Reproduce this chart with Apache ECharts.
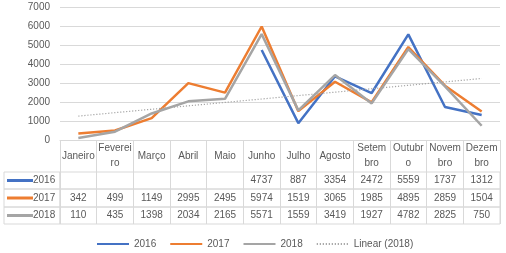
<!DOCTYPE html>
<html><head><meta charset="utf-8">
<script src="https://cdn.jsdelivr.net/npm/echarts@6/dist/echarts.min.js"></script>
<style>html,body{margin:0;padding:0;background:#fff}#c{width:506px;height:253px}</style>
</head><body><div id="c"></div>
<script>
const categories = ['Janeiro','Feverei\nro','Março','Abril','Maio','Junho','Julho','Agosto','Setem\nbro','Outubr\no','Novem\nbro','Dezem\nbro'];
const seriesNames = ['2016','2017','2018'];
const values2016 = [null,null,null,null,null,4737,887,3354,2472,5559,1737,1312];
const values2017 = [342,499,1149,2995,2495,5974,1519,3065,1985,4895,2859,1504];
const values2018 = [110,435,1398,2034,2165,5571,1559,3419,1927,4782,2825,750];
const trendName = 'Linear (2018)';
const yMin = 0, yMax = 7000, yStep = 1000;

const rows = [values2016, values2017, values2018];
const colors = ['#4472C4','#ED7D31','#A5A5A5'];
const FONT = 'Liberation Sans';
const TXT = '#595959';
const GRID = '#D9D9D9';

// linear regression trendline of 2018
function linearTrend(arr){
  const n = arr.length; let sx=0, sy=0, sxy=0, sxx=0;
  arr.forEach((y,i)=>{const x=i+1; sx+=x; sy+=y; sxy+=x*y; sxx+=x*x;});
  const b = (n*sxy - sx*sy)/(n*sxx - sx*sx);
  const a = (sy - b*sx)/n;
  return arr.map((_,i)=>+(a + b*(i+1)).toFixed(1));
}
const trend = linearTrend(values2018);

const rowTops = [172, 189, 207];
const rowHeights = [17, 18, 17];

const grid = [{left:60, width:440, top:7, height:133}];
const xAxis = [{
  type:'category', gridIndex:0, data:categories, boundaryGap:true,
  axisLine:{lineStyle:{color:GRID}},
  axisTick:{show:true, interval:0, length:32, lineStyle:{color:GRID}},
  axisLabel:{interval:0, margin:16, verticalAlign:'middle', lineHeight:15, fontSize:10, color:TXT, fontFamily:FONT}
}];
const yAxis = [{
  type:'value', gridIndex:0, min:yMin, max:yMax, interval:yStep,
  axisLine:{show:false}, axisTick:{show:false},
  splitLine:{lineStyle:{color:GRID}},
  axisLabel:{margin:10, fontSize:10, color:TXT, fontFamily:FONT, formatter:(v)=>String(v)}
}];

const rich = {};
seriesNames.forEach((n,i)=>{ rich['sw'+i] = {width:26, height:3, backgroundColor:colors[i]}; rich['t'+i]={fontSize:10,color:TXT,fontFamily:FONT}; });

rows.forEach((vals,i)=>{
  const gL = grid.length;
  grid.push({left:4, width:56, top:rowTops[i], height:rowHeights[i], show:true, borderColor:GRID, borderWidth:1});
  xAxis.push({type:'value', gridIndex:gL, show:false});
  yAxis.push({type:'category', gridIndex:gL, data:[seriesNames[i]],
    axisLine:{show:false}, axisTick:{show:false}, splitLine:{show:false},
    axisLabel:{inside:true, margin:3, formatter:(v)=>'{sw'+i+'| }{t'+i+'|'+v+'}', rich:rich}});
  const gV = grid.length;
  grid.push({left:60, width:440, top:rowTops[i], height:rowHeights[i], show:true, borderColor:GRID, borderWidth:1});
  xAxis.push({type:'category', gridIndex:gV, position:'bottom', boundaryGap:true,
    data:vals.map(v=>v==null?'':String(v)),
    axisLine:{show:false}, axisTick:{show:false},
    splitLine:{show:true, interval:0, lineStyle:{color:GRID}},
    axisLabel:{inside:true, interval:0, margin:rowHeights[i]/2, verticalAlign:'middle', fontSize:10, color:TXT, fontFamily:FONT}});
  yAxis.push({type:'value', gridIndex:gV, show:false});
});

const series = seriesNames.map((n,i)=>({
  name:n, type:'line', xAxisIndex:0, yAxisIndex:0, data:rows[i],
  symbol:'none', lineStyle:{width:2.5, color:colors[i]}, itemStyle:{color:colors[i]}, connectNulls:false
}));
series.push({name:trendName, type:'line', xAxisIndex:0, yAxisIndex:0, data:trend, symbol:'none',
  lineStyle:{width:1.2, type:[1.2,1.8], color:'#A5A5A5'}, itemStyle:{color:'#A5A5A5'}});

const chart = echarts.init(document.getElementById('c'), null, {renderer:'canvas'});
chart.setOption({
  animation:false,
  textStyle:{fontFamily:FONT},
  grid, xAxis, yAxis, series,
  legend:{data:[...seriesNames, trendName], left:91, top:234, itemWidth:32, itemHeight:12, itemGap:13,
    itemStyle:{opacity:0},
    textStyle:{fontSize:10, color:TXT, fontFamily:FONT}}
});
</script></body></html>
